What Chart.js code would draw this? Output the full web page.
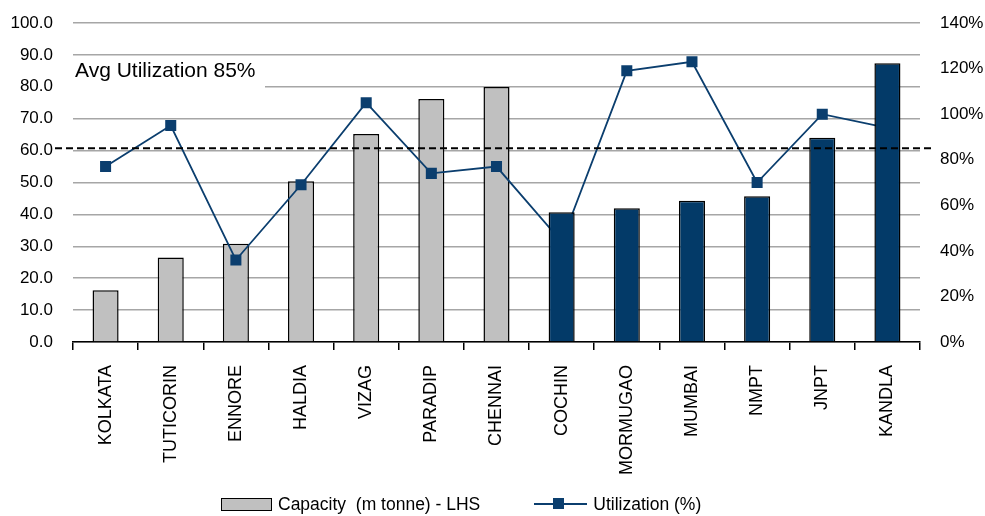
<!DOCTYPE html>
<html>
<head>
<meta charset="utf-8">
<script src="https://cdn.jsdelivr.net/npm/chart.js@4.4.1/dist/chart.umd.min.js"></script>
<style>
    body { margin: 0; background: #fff; }
    #wrap { position: relative; width: 985px; height: 516px; }
    #legend {
        position: absolute; top: 494px; left: 221px;
        font-family: "Liberation Sans", Arial, sans-serif; font-size: 17.5px; color: #000;
        display: flex; align-items: center; height: 20px;
    }
    .box { width: 49px; height: 11px; background: #c0c0c0; border: 1.5px solid #000; }
    .lbl { margin-left: 6px; }
    .ln { position: relative; width: 53px; height: 2px; background: #0b3e6e; margin-left: 54px; }
    .ln span { position: absolute; left: 19px; top: -5px; width: 11px; height: 11px; background: #0b3e6e; }
</style>
</head>
<body>
<div id="wrap">
    <canvas id="ResultData" width="985" height="516"></canvas>
    <div id="legend">
        <div class="box"></div><span class="lbl">Capacity&nbsp; (m tonne) - LHS</span>
        <div class="ln"><span></span></div><span class="lbl">Utilization (%)</span>
    </div>
</div>
<script>
const ports = ["KOLKATA", "TUTICORIN", "ENNORE", "HALDIA", "VIZAG", "PARADIP", "CHENNAI",
    "COCHIN", "MORMUGAO", "MUMBAI", "NMPT", "JNPT", "KANDLA"];
// capacity, m tonne (east coast ports grey, west coast ports navy)
const capacityEast = [16.2, 26.5, 30.8, 50.4, 65.2, 76.2, 79.9, null, null, null, null, null, null];
const capacityWest = [null, null, null, null, null, null, null, 40.7, 41.9, 44.3, 45.7, 64.0, 87.4];
// utilization, %
const utilization = [77, 95, 36, 69, 105, 74, 77, 44, 119, 123, 70, 100, 94];
const avgUtilization = 85;

const ItemChart = document.getElementById("ResultData");
const tickFont = { family: "'Liberation Sans', Arial, sans-serif", size: 17 };

// dashed average line plus its caption box
const avgLine = {
    id: "avgLine",
    beforeDatasetsDraw(chart) {
        const ctx = chart.ctx;
        const area = chart.chartArea;
        ctx.save();
        ctx.fillStyle = "#fff";
        ctx.fillRect(area.left, area.top + 33, 192, 34);
        ctx.fillStyle = "#000";
        ctx.font = "21px 'Liberation Sans', Arial, sans-serif";
        ctx.textBaseline = "alphabetic";
        ctx.fillText("Avg Utilization " + avgUtilization + "%", area.left + 2, area.top + 54);
        ctx.restore();
    },
    afterDatasetsDraw(chart) {
        const ctx = chart.ctx;
        const area = chart.chartArea;
        const y = chart.scales.y1.getPixelForValue(avgUtilization);
        ctx.save();
        ctx.strokeStyle = "#000";
        ctx.lineWidth = 2;
        ctx.setLineDash([7, 4]);
        ctx.beginPath();
        ctx.moveTo(area.left - 18, y);
        ctx.lineTo(area.right + 14, y);
        ctx.stroke();
        ctx.restore();
    },
};

new Chart(ItemChart, {
    type: "bar",
    data: {
        labels: ports,
        datasets: [
            {
                label: "Capacity (m tonne) - LHS",
                data: capacityEast,
                backgroundColor: "#c0c0c0",
                borderColor: "#000",
                borderWidth: 1.5,
                order: 3,
            },
            {
                label: "Utilization (%)",
                type: "line",
                data: utilization,
                yAxisID: "y1",
                borderColor: "#0b3e6e",
                borderWidth: 1.8,
                pointStyle: "rect",
                pointRadius: 7.8,
                pointBorderWidth: 0,
                pointBackgroundColor: "#0b3e6e",
                tension: 0,
                order: 2,
            },
            {
                label: "Capacity west",
                data: capacityWest,
                backgroundColor: "#033a68",
                borderColor: "#000",
                borderWidth: 1.5,
                order: 1,
            },
        ],
    },
    options: {
        responsive: false,
        animation: false,
        layout: { padding: { top: 23, left: 0, right: 0, bottom: 0 } },
        datasets: {
            bar: { grouped: false, barPercentage: 0.4, categoryPercentage: 1 },
        },
        plugins: {
            legend: { display: false },
            tooltip: { enabled: false },
        },
        scales: {
            x: {
                grid: { display: true, drawOnChartArea: false, color: "#000", lineWidth: 1.5, tickLength: 8 },
                border: { color: "#000", width: 1.5 },
                ticks: {
                    autoSkip: false, minRotation: 90, maxRotation: 90, padding: 15,
                    color: "#000", font: { family: "'Liberation Sans', Arial, sans-serif", size: 18 },
                },
                afterFit: (scale) => { scale.height = 174; },
            },
            y: {
                position: "left",
                min: 0, max: 100,
                // invisible tick marks keep the labels 20px off the plot
                grid: { color: "#a6a6a6", lineWidth: 1.5, tickLength: 20, tickColor: "rgba(0,0,0,0)" },
                border: { display: false },
                ticks: {
                    stepSize: 10, padding: 0, color: "#000", font: tickFont,
                    callback: (v) => v.toFixed(1),
                },
                afterFit: (scale) => { scale.width = 73; },
            },
            y1: {
                position: "right",
                min: 0, max: 140,
                grid: { drawOnChartArea: false, tickLength: 20, tickColor: "rgba(0,0,0,0)" },
                border: { display: false },
                ticks: {
                    stepSize: 20, padding: 0, color: "#000", font: tickFont,
                    callback: (v) => v + "%",
                },
                afterFit: (scale) => { scale.width = 65; },
            },
        },
    },
    plugins: [avgLine],
});
</script>
</body>
</html>
